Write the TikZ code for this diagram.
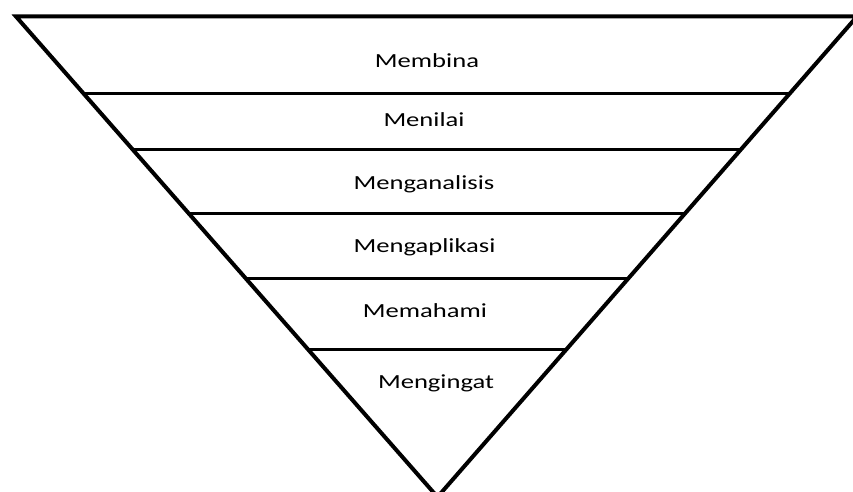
\documentclass[tikz,border=0pt]{standalone}
\usepackage{fontspec}
\setmainfont{Carlito}
\usetikzlibrary{calc}
\begin{document}
\begin{tikzpicture}[x=1pt,y=-1pt,
  lbl/.style={anchor=base,inner sep=0pt,font=\fontsize{20}{24}\selectfont},
  tri/.style={line width=4pt,line join=miter},
  sep/.style={line width=3pt}]
\useasboundingbox (0,0) rectangle (853,492);
\begin{scope}
\clip (0,0) rectangle (853,492);
\coordinate (TL) at (16,16.5);
\coordinate (TR) at (857,16.5);
\coordinate (AP) at (437.5,497);
\draw[tri] (TL) -- (TR) -- (AP) -- cycle;
\foreach \yy/\nm in {93/a,150/b,213/c,278/d,349/e}{
  \coordinate (L\nm) at ($(TL)!{(\yy-16.5)/480.5}!(AP)$);
  \coordinate (R\nm) at ($(TR)!{(\yy-16.5)/480.5}!(AP)$);
  \draw[sep] (L\nm) -- (R\nm);
}
\end{scope}
\node[lbl] (t1) at (427,68) {\scalebox{1.33}[1]{Membina}};
\node[lbl] (t2) at (424,127) {\scalebox{1.33}[1]{Menilai}};
\node[lbl] (t3) at (424,189) {\scalebox{1.33}[1]{Menganalisis}};
\node[lbl] (t4) at (424.5,252) {\scalebox{1.33}[1]{Mengaplikasi}};
\node[lbl] (t5) at (425,317) {\scalebox{1.33}[1]{Memahami}};
\node[lbl] (t6) at (436,388) {\scalebox{1.33}[1]{Mengingat}};
\end{tikzpicture}
\end{document}
